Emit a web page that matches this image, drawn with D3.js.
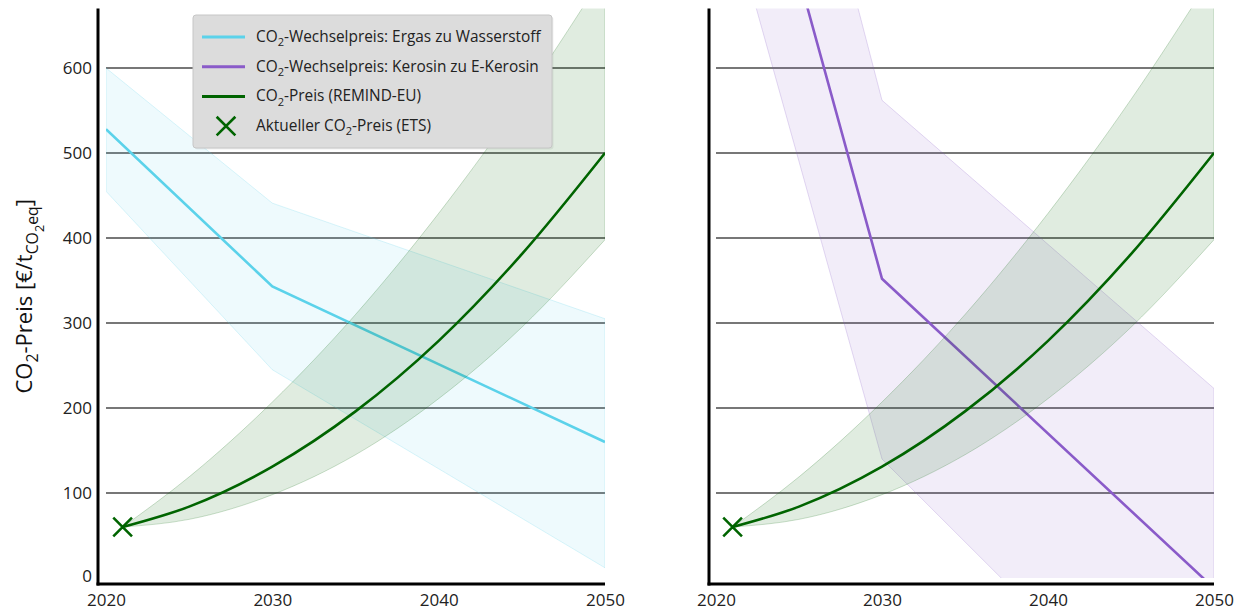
<!DOCTYPE html>
<html>
<head>
<meta charset="utf-8">
<script src="https://cdn.jsdelivr.net/npm/d3@7"></script>
<style>
  body { margin: 0; background: #fff; }
  svg { display: block; font-family: "Open Sans", sans-serif; }
</style>
</head>
<body>
<div id="chart"></div>
<script>
const width = 1244;
const height = 612;

// data
const xTicks = [2020, 2030, 2040, 2050];
const yTicks = [0, 100, 200, 300, 400, 500, 600];
const gridValues = [100, 200, 300, 400, 500, 600];

// switch price natural gas -> hydrogen (left panel)
const h2Years = [2020, 2030, 2050];
const h2Price = [528, 343, 160];
const h2Upper = [600, 441, 305];
const h2Lower = [455, 245, 12];

// switch price kerosene -> e-kerosene (right panel)
const keroYears = [2020, 2030, 2050];
const keroPrice = [1062, 352, -12];
const keroUpper = [1312, 562, 223];
const keroLower = [840, 140, -250];

// CO2 price REMIND-EU (both panels)
const remindYears = [2021, 2025, 2030, 2035, 2040, 2045, 2050];
const remindPrice = [60, 84, 131, 196, 279, 381, 500];
const remindUpper = [60, 119, 207, 310, 429, 563, 712];
const remindLower = [60, 69, 98, 145, 211, 295, 398];

// current ETS price
const etsYear = 2021;
const etsPrice = 60;

const legendItems = [
  { kind: "line", color: "#5bd2ea", parts: [["CO", 0], ["2", 1], ["-Wechselpreis: Ergas zu Wasserstoff", 0]] },
  { kind: "line", color: "#8a5bc9", parts: [["CO", 0], ["2", 1], ["-Wechselpreis: Kerosin zu E-Kerosin", 0]] },
  { kind: "line", color: "#006400", parts: [["CO", 0], ["2", 1], ["-Preis (REMIND-EU)", 0]] },
  { kind: "cross", color: "#006400", parts: [["Aktueller CO", 0], ["2", 1], ["-Preis (ETS)", 0]] }
];

const svg = d3.select("#chart")
  .append("svg")
  .attr("width", width)
  .attr("height", height);

svg.append("rect").attr("width", width).attr("height", height).attr("fill", "#fff");

const y = d3.scaleLinear().domain([0, 670]).range([578, 8.5]);

const panels = [
  { id: "left", x: d3.scaleLinear().domain([2020, 2050]).range([106, 605]), spineX: 98, showY: true,
    years: h2Years, price: h2Price, upper: h2Upper, lower: h2Lower, color: "#5bd2ea", bandOpacity: 0.1 },
  { id: "right", x: d3.scaleLinear().domain([2020, 2050]).range([716, 1214]), spineX: 709, showY: false,
    years: keroYears, price: keroPrice, upper: keroUpper, lower: keroLower, color: "#8a5bc9", bandOpacity: 0.11 }
];

// helper for sub-scripted text
function addParts(textSel, parts, size) {
  let level = 0;
  parts.forEach(([txt, lv]) => {
    const shift = (lv - level) * size * 0.28;
    textSel.append("tspan")
      .attr("dy", shift)
      .attr("font-size", lv === 0 ? size : lv === 1 ? size * 0.72 : size * 0.58)
      .text(txt);
    level = lv;
  });
}

panels.forEach(p => {
  const x = p.x;
  const g = svg.append("g");

  g.append("clipPath").attr("id", "clip-" + p.id)
    .append("rect")
    .attr("x", x.range()[0]).attr("y", y(670))
    .attr("width", x.range()[1] - x.range()[0])
    .attr("height", y(0) - y(670));

  // gridlines
  g.selectAll(".grid")
    .data(gridValues)
    .join("line")
    .attr("x1", x.range()[0]).attr("x2", x.range()[1])
    .attr("y1", d => y(d)).attr("y2", d => y(d))
    .attr("stroke", "#4a4a4a")
    .attr("stroke-width", 1.6);

  const plot = g.append("g").attr("clip-path", `url(#clip-${p.id})`);

  const band = d3.area()
    .x(d => x(d.year))
    .y0(d => y(d.lo))
    .y1(d => y(d.hi));

  const line = d3.line()
    .x(d => x(d.year))
    .y(d => y(d.v));

  // switch price band + line
  const swBand = p.years.map((yr, i) => ({ year: yr, lo: p.lower[i], hi: p.upper[i] }));
  plot.append("path")
    .datum(swBand)
    .attr("d", band)
    .attr("fill", p.color).attr("fill-opacity", p.bandOpacity)
    .attr("stroke", p.color).attr("stroke-opacity", 0.22).attr("stroke-width", 1);

  plot.append("path")
    .datum(p.years.map((yr, i) => ({ year: yr, v: p.price[i] })))
    .attr("d", line)
    .attr("fill", "none")
    .attr("stroke", p.color)
    .attr("stroke-width", 2.6);

  // REMIND band + line
  const rBand = remindYears.map((yr, i) => ({ year: yr, lo: remindLower[i], hi: remindUpper[i] }));
  plot.append("path")
    .datum(rBand)
    .attr("d", band.curve(d3.curveMonotoneX))
    .attr("fill", "#006400").attr("fill-opacity", 0.12)
    .attr("stroke", "#006400").attr("stroke-opacity", 0.2).attr("stroke-width", 1);

  plot.append("path")
    .datum(remindYears.map((yr, i) => ({ year: yr, v: remindPrice[i] })))
    .attr("d", line.curve(d3.curveMonotoneX))
    .attr("fill", "none")
    .attr("stroke", "#006400")
    .attr("stroke-width", 2.6);

  // ETS marker
  g.append("path")
    .attr("d", d3.symbol(d3.symbolX, 230)())
    .attr("transform", `translate(${x(etsYear)},${y(etsPrice)})`)
    .attr("fill", "none")
    .attr("stroke", "#006400")
    .attr("stroke-width", 2.6);

  // spines
  g.append("line")
    .attr("x1", p.spineX).attr("x2", p.spineX)
    .attr("y1", y(670)).attr("y2", 585.5)
    .attr("stroke", "#000").attr("stroke-width", 3);
  g.append("line")
    .attr("x1", p.spineX - 1.5).attr("x2", x.range()[1])
    .attr("y1", 584).attr("y2", 584)
    .attr("stroke", "#000").attr("stroke-width", 3);

  // x axis labels
  const xAxis = g.append("g")
    .attr("transform", "translate(0,584)")
    .call(d3.axisBottom(x).tickValues(xTicks).tickFormat(d3.format("d")).tickSize(0).tickPadding(10));
  xAxis.select(".domain").remove();
  xAxis.selectAll("text")
    .attr("font-family", "Open Sans")
    .attr("font-size", 17)
    .attr("fill", "#222");

  if (p.showY) {
    const yAxis = g.append("g")
      .attr("transform", `translate(${p.spineX},0)`)
      .call(d3.axisLeft(y).tickValues(yTicks).tickSize(0).tickPadding(6));
    yAxis.select(".domain").remove();
    yAxis.selectAll("text")
      .attr("font-family", "Open Sans")
      .attr("font-size", 17)
      .attr("fill", "#222");
    yAxis.selectAll(".tick").filter(d => d === 0).select("text").attr("dy", "0.2em");
  }
});

// y axis title
const yTitle = svg.append("text")
  .attr("transform", `translate(32,${(y(670) + 584) / 2}) rotate(-90)`)
  .attr("text-anchor", "middle")
  .attr("fill", "#111");
addParts(yTitle, [["CO", 0], ["2", 1], ["-Preis [€/t", 0], ["CO", 1], ["2", 2], ["eq", 1], ["]", 0]], 22);

// legend
const legend = svg.append("g").attr("transform", "translate(193,15)");
legend.append("rect")
  .attr("x", 1.5).attr("y", 1.5)
  .attr("width", 359).attr("height", 133)
  .attr("rx", 3)
  .attr("fill", "#000").attr("opacity", 0.06);
legend.append("rect")
  .attr("width", 359).attr("height", 133)
  .attr("rx", 3)
  .attr("fill", "#dcdcdc")
  .attr("stroke", "#c6c6c6");

const rows = legend.selectAll(".legend-row")
  .data(legendItems)
  .join("g")
  .attr("class", "legend-row")
  .attr("transform", (d, i) => `translate(0,${22 + i * 29.7})`);

rows.filter(d => d.kind === "line")
  .append("line")
  .attr("x1", 9).attr("x2", 52)
  .attr("stroke", d => d.color)
  .attr("stroke-width", 3);

rows.filter(d => d.kind === "cross")
  .append("path")
  .attr("d", d3.symbol(d3.symbolX, 230)())
  .attr("transform", "translate(33,0)")
  .attr("fill", "none")
  .attr("stroke", d => d.color)
  .attr("stroke-width", 2.6);

rows.append("text")
  .attr("x", 63)
  .attr("y", 5)
  .attr("fill", "#222")
  .each(function(d) { addParts(d3.select(this), d.parts, 15.4); });
</script>
</body>
</html>
